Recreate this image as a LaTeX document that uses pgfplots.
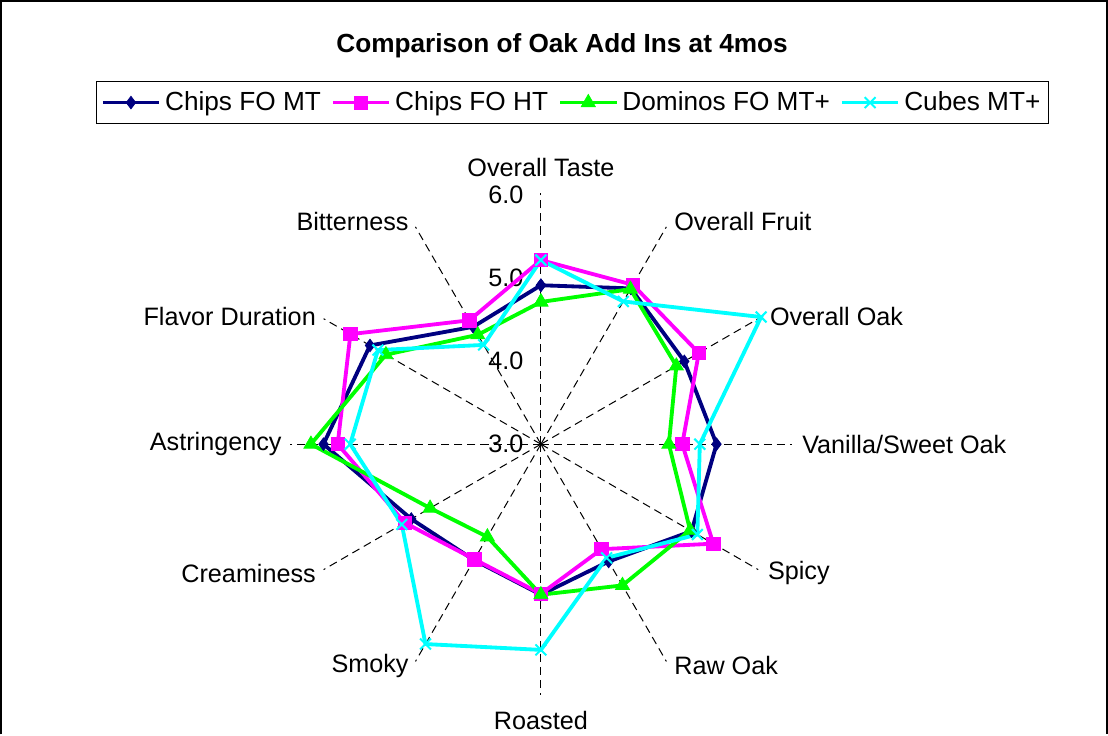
\documentclass[border=0pt]{standalone}
\usepackage{pgfplots}
\usepackage{pgfplotstable}
\pgfplotsset{compat=1.18}
\usepackage{fontspec}
\setmainfont{Liberation Sans}
\definecolor{cnavy}{RGB}{0,0,128}
\definecolor{cmag}{RGB}{255,0,255}
\definecolor{cgreen}{RGB}{0,255,0}
\definecolor{ccyan}{RGB}{0,255,255}
% angle (deg, counter-clockwise from right) and score
\pgfplotstableread{
a v
90 4.90
60 5.15
30 4.98
0 5.10
-30 5.08
-60 4.62
-90 4.80
-120 4.60
-150 4.79
-180 5.60
-210 5.36
-240 4.62
-270 4.90
}\navy
\pgfplotstableread{
a v
90 5.20
60 5.20
30 5.18
0 4.69
-30 5.38
-60 4.45
-90 4.79
-120 4.59
-150 4.88
-180 5.43
-210 5.63
-240 4.71
-270 5.20
}\magenta
\pgfplotstableread{
a v
90 4.70
60 5.14
30 4.87
0 4.53
-30 5.06
-60 4.95
-90 4.80
-120 4.28
-150 4.53
-180 5.75
-210 5.14
-240 4.51
-270 4.70
}\green
\pgfplotstableread{
a v
90 5.20
60 4.97
30 6.04
0 4.90
-30 5.16
-60 4.57
-90 5.46
-120 5.76
-150 4.92
-180 5.28
-210 5.25
-240 4.37
-270 5.20
}\cyan
\newcommand{\PX}[2]{({(#1-541)/83},{(443-#2)/83})}
\begin{document}
\begin{tikzpicture}
\begin{axis}[
  hide axis, clip=false,
  x=41.5pt, y=41.5pt,
  xmin=-6.5181, xmax=6.8313, ymin=-3.4699, ymax=5.3373,
  legend columns=4,
  legend style={at={(0.5167,0.8577)}, anchor=center, draw=black,
    font=\fontsize{13}{15}\selectfont, inner xsep=2pt, inner ysep=3pt,
    /tikz/every even column/.append style={column sep=3pt}},
  legend image code/.code={\draw[mark repeat=2,mark phase=2,#1] plot coordinates {(0pt,0pt) (14pt,0pt) (28pt,0pt)};},
]
% frame
\draw[black, line width=0.8pt] \PX{5}{731} -- \PX{5}{3} -- \PX{1103}{3} -- \PX{1103}{731};
% spokes
\pgfplotsinvokeforeach{90,60,30,0,-30,-60,-90,-120,-150,-180,-210,-240}{
  \draw[black, line width=0.5pt, dash pattern=on 4pt off 2.5pt] (0,0) -- ({3*cos(#1)},{3*sin(#1)});
}
% radial tick labels
\begin{scope}[font=\fontsize{12.5}{15}\selectfont]
\node[anchor=east, inner sep=0pt] at \PX{524}{196} {6.0};
\node[anchor=east, inner sep=0pt] at \PX{524}{278} {5.0};
\node[anchor=east, inner sep=0pt] at \PX{524}{360} {4.0};
\node[anchor=east, inner sep=0pt] at \PX{524}{443} {3.0};
% category labels
\node[anchor=center, inner sep=0pt] at \PX{541}{168} {Overall Taste};
\node[anchor=west, inner sep=0pt] at \PX{673}{222} {Overall Fruit};
\node[anchor=west, inner sep=0pt] at \PX{768}{316} {Overall Oak};
\node[anchor=west, inner sep=0pt] at \PX{800}{443} {Vanilla/Sweet Oak};
\node[anchor=west, inner sep=0pt] at \PX{766}{571} {Spicy};
\node[anchor=west, inner sep=0pt] at \PX{673}{663} {Raw Oak};
\node[anchor=center, inner sep=0pt] at \PX{541}{717} {Roasted};
\node[anchor=east, inner sep=0pt] at \PX{410}{663} {Smoky};
\node[anchor=east, inner sep=0pt] at \PX{318}{571} {Creaminess};
\node[anchor=east, inner sep=0pt] at \PX{284}{443} {Astringency};
\node[anchor=east, inner sep=0pt] at \PX{318}{316} {Flavor Duration};
\node[anchor=east, inner sep=0pt] at \PX{410}{222} {Bitterness};
\end{scope}
\node[font=\fontsize{13}{15}\selectfont\bfseries, inner sep=0pt] at \PX{562}{48} {Comparison of Oak Add Ins at 4mos};
\addplot[data cs=polar, cnavy, line width=1.9pt, mark=diamond*, mark size=3.1pt, mark options={solid, fill=cnavy, line width=0.4pt}]
  table[x=a, y expr=\thisrow{v}-3] {\navy};
\addlegendentry{Chips FO MT}
\addplot[data cs=polar, cmag, line width=1.9pt, mark=square*, mark size=3.3pt, mark options={solid, fill=cmag, line width=0.4pt}]
  table[x=a, y expr=\thisrow{v}-3] {\magenta};
\addlegendentry{Chips FO HT}
\addplot[data cs=polar, cgreen, line width=1.9pt, mark=triangle*, mark size=4pt, mark options={solid, fill=cgreen, line width=0.4pt}]
  table[x=a, y expr=\thisrow{v}-3] {\green};
\addlegendentry{Dominos FO MT+}
\addplot[data cs=polar, ccyan, line width=1.9pt, mark=x, mark size=3.8pt, mark options={solid, line width=1pt}]
  table[x=a, y expr=\thisrow{v}-3] {\cyan};
\addlegendentry{Cubes MT+}
\end{axis}
\end{tikzpicture}
\end{document}
